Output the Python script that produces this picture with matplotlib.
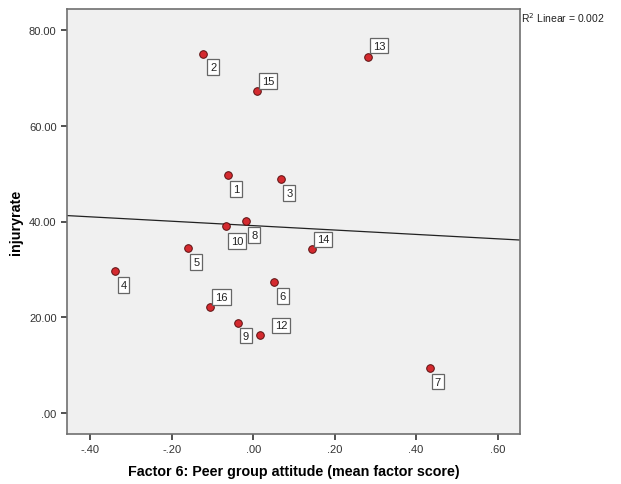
import numpy as np
import matplotlib.pyplot as plt

plt.rcParams['font.family'] = ['Liberation Sans', 'DejaVu Sans']

# case numbers, factor score and injury rate
case_id = [1, 2, 3, 4, 5, 6, 7, 8, 9, 10, 12, 13, 14, 15, 16]
factor6 = [-0.063, -0.122, 0.068, -0.339, -0.160, 0.052, 0.433, -0.018,
           -0.038, -0.066, 0.017, 0.282, 0.144, 0.010, -0.105]
injuryrate = [49.7, 75.0, 48.9, 29.6, 34.4, 27.3, 9.4, 40.1,
              18.7, 39.1, 16.2, 74.5, 34.2, 67.4, 22.1]

# where each label box sits relative to its point (points)
lab_dx = [6, 7, 6, 6, 6, 6, 6, 6, 6, 8, 15, 8, 8, 8, 8]
lab_dy = [-10, -9, -10, -10, -10, -10, -10, -10, -9, -11, 7, 8, 7, 7, 7]

xlim = (-0.457, 0.655)
ylim = (-4.5, 84.5)

fig = plt.figure(figsize=(6.21, 4.85), dpi=100)
ax = fig.add_axes([67/621, 50/485, 453/621, 425/485])
ax.set_facecolor('#f0f0f0')

# linear fit line
coef = np.polyfit(factor6, injuryrate, 1)
xx = np.array(xlim)
ax.plot(xx, np.polyval(coef, xx), color='#222222', lw=0.9, zorder=2)

ax.scatter(factor6, injuryrate, s=30, color='#d42a2f', edgecolor='#5a1010',
           linewidth=0.7, zorder=3)

for cid, x, y, dx, dy in zip(case_id, factor6, injuryrate, lab_dx, lab_dy):
    ax.annotate(str(cid), (x, y), xytext=(dx, dy), textcoords='offset points',
                ha='center', va='center', fontsize=8, color='#222222', zorder=4,
                bbox=dict(boxstyle='square,pad=0.25', fc='white', ec='#666666', lw=0.9))

ax.set_xlim(xlim)
ax.set_ylim(ylim)
ax.set_xticks([-0.4, -0.2, 0.0, 0.2, 0.4, 0.6])
ax.set_xticklabels(['-.40', '-.20', '.00', '.20', '.40', '.60'])
ax.set_yticks([0, 20, 40, 60, 80])
ax.set_yticklabels(['.00', '20.00', '40.00', '60.00', '80.00'])
ax.tick_params(labelsize=8, colors='#333333', length=4, width=1.2,
               top=False, right=False)
for sp in ax.spines.values():
    sp.set_color('#707070')
    sp.set_linewidth(1.2)

ax.set_xlabel('Factor 6: Peer group attitude (mean factor score)',
              fontsize=10.3, fontweight='bold', labelpad=7)
ax.set_ylabel('injuryrate', fontsize=10.3, fontweight='bold', labelpad=4)

fig.text(521/621, 1 - 18/485, 'R$^2$ Linear = 0.002', fontsize=7.5,
         ha='left', va='center', color='#222222')

fig.savefig('out.png', dpi=100)
